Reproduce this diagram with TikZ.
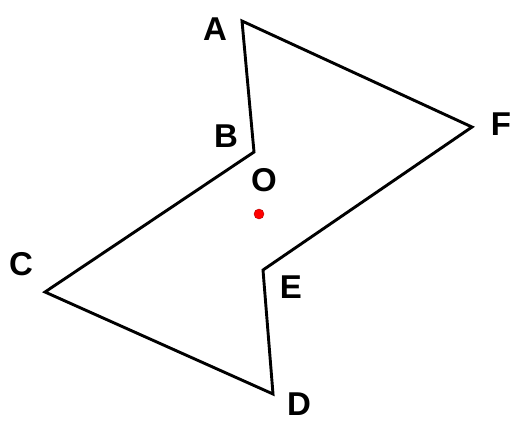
\documentclass[tikz,border=0pt]{standalone}
\usepackage{fontspec}
\setmainfont{Liberation Sans}
\begin{document}
\begin{tikzpicture}[x=1pt,y=-1pt,
  edge/.style={draw=black,line width=2.9pt,line join=miter},
  lbl/.style={font=\fontsize{33}{33}\selectfont\bfseries,inner sep=0pt},
  dot/.style={circle,fill=red,draw=red!70!black,line width=0.4pt,minimum size=10pt,inner sep=0pt}]
\useasboundingbox (0,0) rectangle (513,421);
\coordinate (A) at (242,21);
\coordinate (B) at (254,152);
\coordinate (C) at (45,292);
\coordinate (D) at (273,394);
\coordinate (E) at (263,270);
\coordinate (F) at (472,127);
\draw[edge] (A) -- (B) -- (C) -- (D) -- (E) -- (F) -- cycle;
\node[dot] (O) at (259,214) {};
\node[lbl] (la) at (215,29) {A};
\node[lbl] (lb) at (226,136) {B};
\node[lbl] (lo) at (264,180) {O};
\node[lbl] (lc) at (21,264) {C};
\node[lbl] (ld) at (299,404) {D};
\node[lbl] (le) at (291,287) {E};
\node[lbl] (lf) at (501,124) {F};
\end{tikzpicture}
\end{document}
